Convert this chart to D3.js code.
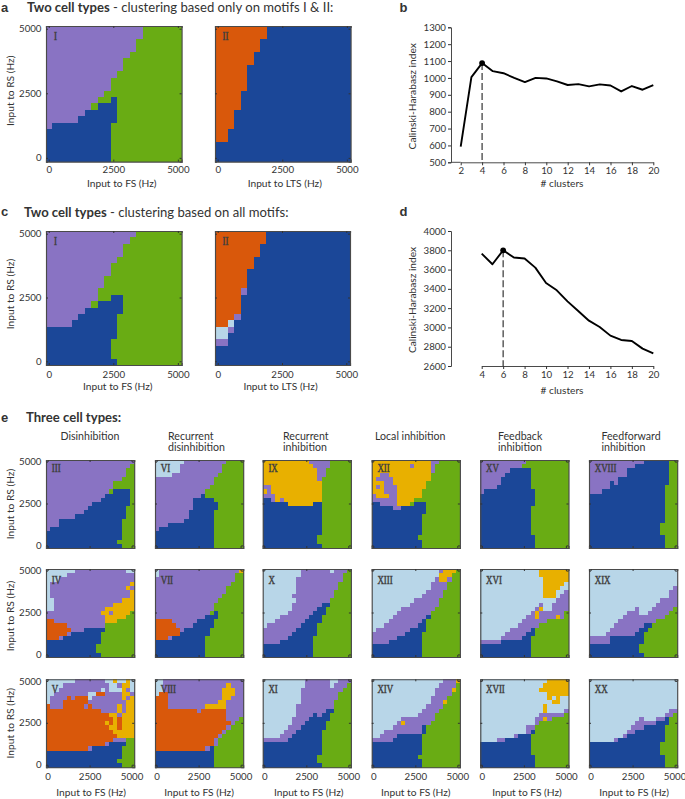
<!DOCTYPE html>
<html><head><meta charset="utf-8">
<script src="https://cdn.jsdelivr.net/npm/d3@7"></script>
<style>
html,body{margin:0;padding:0;background:#fff}
text{font-family:Lato,"Open Sans",sans-serif;fill:#333}
</style></head><body><svg id="c" width="685" height="799"></svg>
<script>
// Cluster maps: 21 rows from input 5000 (top) to 0 (bottom), run-length coded; a letter with no count fills the row.
const I_A=["15pg","15pg","14pg","14pg","13pg","12pg","12pg","11pg","10pg","10pg","9pg","8p2g1bg","7p1g3bg","6p5bg","5p6bg","1p9bg","10bg","10bg","10bg","10bg","10bg"];
const II_A=["8ob","8ob","7ob","7ob","6ob","6ob","5ob","5ob","5ob","5ob","4ob","4ob","4ob","3ob","3ob","3ob","2ob","2ob","b","b","b"];
const I_C=["14pg","13pg","12pg","12pg","11pg","10pg","10pg","9pg","9pg","8pg","8p2g2bg","7p1g4bg","6p6bg","5p6bg","4p7bg","11bg","11bg","10bg","10bg","10bg","11bg"];
const II_C=["8ob","8ob","7ob","7ob","6ob","6ob","5ob","5ob","5ob","4o1pb","4ob","4ob","4ob","3o1pb","2o1lb","2l1pb","2lb","2pb","b","b","b"];
const III=["21p","20pg","19pg","19pg","18pg","16pg","16pg","15p1g4b1g","14p6b1g","13p7b1g","11p9b1g","10p9bg","9p10bg","7p12bg","3p15bg","3p15bg","1p17bg","18bg","18bg","17bg","18bg"];
const VI=["7l10pg","6l10pg","6l10pg","4l11pg","14pg","14pg","13pg","12pg","11p1bg","9p5bg","9p6bg","9p6bg","8p6bg","8p6bg","7p7bg","3p11bg","1p13bg","14bg","14bg","14bg","14bg"];
const IX=["11y5pg","12y4pg","13y2pg","13y2pg","13y1pg","14yg","2p12yg","1y1p12yg","3p11yg","2b1p1y1p9yg","6b6y2bg","14bg","14bg","14bg","14bg","14bg","14bg","14bg","13bg","13bg","14bg"];
const XII=["14y2pg","9y1p4y1pg","14y1pg","2y2p10yg","1y4p9yg","3y2p8yg","1y1p1y3p7yg","3y3p6yg","1p3y2p6yg","6p4yg","2b4p3y1g3bg","5b2p6bg","13bg","12bg","12bg","12bg","12bg","12bg","11bg","12bg","12bg"];
const XV=["11pg","10pg","7p5bg","6p6bg","5p7bg","5p7bg","4p8bg","1p12bg","13bg","13bg","13bg","12bg","12bg","12bg","12bg","12bg","12bg","12bg","13bg","13bg","13bg"];
const XVIII=["13p6b2g","11p8b2g","9p10b2g","9p10b2g","7p12b2g","5p1b1p12b2g","5p13bg","3p15bg","18bg","18bg","18bg","18bg","18bg","18bg","18bg","17bg","17bg","17bg","18bg","18bg","18bg"];
const IV=["7l12p2l","5lp","3lp","1l19p1y","1l18p1y1p","1l19p1y","1l19p1y","2l16p3y","2l14p5y","2l12p7y","13p2y1p4y1g","14p5y2g","2o12p3y4g","5o9pg","6o3p5bg","5o1p7bg","3o1p9bg","13bg","12bg","12bg","13bg"];
const VII=["1l19p1y","1l18pg","19pg","18pg","17pg","17pg","16pg","15pg","14pg","14pg","13p1g1bg","12p3bg","4o6p4bg","5o4p5bg","6o1p6bg","6o7bg","3o1p8bg","12bg","12bg","12bg","12bg"];
const X=["9l7p1l3p1g","9l10pg","8l11pg","8l10pg","8l10pg","8l9pg","7l10pg","8l8pg","7l7p2bg","7l6p2bg","6l6p3bg","4l7p3bg","3l7p4bg","1l8p4bg","8p5bg","7p6bg","6p6bg","4p8bg","12bg","12bg","12bg"];
const XIII=["16l1p3yg","16l3yg","15l1p2y1pg","14l4pg","14l4pg","13l4pg","12l5pg","10l6pg","9l7pg","7l8pg","6l8pg","5l8p1bg","4l8p1bg","3l8p2bg","1l8p4bg","8p4bg","6p6bg","4p8bg","12bg","12bg","12bg"];
const XVI=["14l7y","14l7y","15l6y","15l5y1l","15l4y2l","15l3y2l1p","15l3y1l2p","18l3p","14l1p2l4p","13l1p1y2l4p","12l1p1y6p1g","11l2p1y4p1y1pg","10l6pg","9l5pg","7l5p1bg","6l5p2bg","5l5p2bg","5p7bg","12bg","12bg","12bg"];
const XIX=["21l","21l","21l","21l","20l1p","19l2p","19l2p","17l4p","16l5p","11l1p3l5p1g","9l3p2l5p2g","8l10pg","7l9pg","6l7p2bg","5l7p2bg","4l7p2bg","5p8bg","5p8bg","12bg","12bg","13bg"];
const V=["7l7p2l1y2l1y1l","4l11p2l1p2y1l","3l10p1l1p3l1y1p1l","2l8p2l2o4p2y1p","1l4p1o1p3o1l7p1y1p1y","1l3p6o9p2y","1o3p5o1p1o6p1y1p2y","13o4p1y1p2y","15o2y1p3y","16o1y1o3y","14o1y1o1y1o3y","15o2y1o3y","16o5y","17o4y","16o3p2g","14o1p4bg","10o1p7bg","18bg","18bg","17bg","18bg"];
const VIII=["2l19p","2l15p1y3p","2l14p3y2p","1l2o13p3y2p","3o13p2y3p","3o12p2y4p","3o9p5y4p","10o1p6o4p","17o4p","17o3p1g","18o1p2g","17o1pg","16o1pg","15o1pg","14o1pg","14o1pg","12o1p1bg","14bg","14bg","14bg","14bg"];
const XI=["10l6p2l3p","10l6p1l3p1g","9l10pg","9l9pg","9l9pg","9l8pg","8l9pg","8l7p2bg","8l4p1b1p2bg","7l4p5bg","7l3p5bg","6l3p6bg","5l3p6bg","4l3p7bg","6p8bg","14bg","14bg","14bg","13bg","13bg","14bg"];
const XIV=["17l3p1y","16l4pg","15l4p1yg","15l4pg","14l4pg","14l3p1yg","13l4pg","12l4pg","11l4pg","7l8pg","6l1p1y6pg","5l7p1bg","3l9p1bg","2l4p6bg","5p7bg","12bg","12bg","12bg","11bg","12bg","12bg"];
const XVII=["16l5y","15l6y","14l7y","16l5y","16l1y1l1y2l","17l2y2l","15l1y5l","15l1y4l1p","14l6pg","13l2p1y1pg","13l1pg","11l2pg","11l1p1bg","8l1p3bg","4l2p6bg","12bg","12bg","12bg","13bg","13bg","13bg"];
const XX=["21l","21l","21l","21l","21l","21l","21l","19l2p","18l2pg","12l1p3l2p1bg","11l5p3bg","10l3p5bg","9l2p7bg","8l1p9bg","6l1p11bg","17bg","17bg","17bg","18bg","18bg","18bg"];

// Calinski-Harabasz curves
const B_CLUSTERS=[2,3,4,5,6,7,8,9,10,11,12,13,14,15,16,17,18,19,20];
const B_INDEX=[593,1005,1088,1040,1028,1000,975,1000,997,980,958,963,950,962,955,920,952,930,957];
const D_CLUSTERS=[4,5,6,7,8,9,10,11,12,13,14,15,16,17,18,19,20];
const D_INDEX=[3765,3655,3800,3725,3715,3620,3460,3385,3270,3170,3070,3005,2915,2870,2860,2780,2730];

// Axis vocabularies
const INPUT_STEPS=[0,250,500,750,1000,1250,1500,1750,2000,2250,2500,2750,3000,3250,3500,3750,4000,4250,4500,4750,5000];
const INPUT_TICKS=[0,2500,5000];
const B_Y_TICKS=[500,600,700,800,900,1000,1100,1200,1300];
const D_Y_TICKS=[2600,2800,3000,3200,3400,3600,3800,4000];
const X_TICKS_B=[2,4,6,8,10,12,14,16,18,20];
const X_TICKS_D=[4,6,8,10,12,14,16,18,20];
const COLUMN_TITLES=[["Disinhibition"],["Recurrent","disinhibition"],["Recurrent","inhibition"],["Local inhibition"],["Feedback","inhibition"],["Feedforward","inhibition"]];
const CLUSTER_KEYS=["p","g","b","o","y","l"];
const CLUSTER_COLORS=["#8973c3","#69ac14","#1b4798","#d9580b","#e8b000","#b8d6e8"];

const svg=d3.select("#c");
const color=d3.scaleOrdinal(CLUSTER_KEYS,CLUSTER_COLORS);
const FS=10.2, TICK_FS=9.7;

function expand(s){
  const out=[];
  for(const m of s.matchAll(/(\d*)([a-z])/g)){
    const k=m[1]?+m[1]:21-out.length;
    for(let i=0;i<k;i++)out.push(m[2]);
  }
  while(out.length<21)out.push(out[out.length-1]);
  return out.slice(0,21);
}

function styleAxis(g,w){
  g.selectAll("path").attr("stroke","#4a4a4a").attr("stroke-width",w);
  g.selectAll("line").attr("stroke","#333");
  g.selectAll("text").style("font-size",TICK_FS+"px").style("font-family","Lato").attr("fill","#333");
}

function heat(o){
  const g=svg.append("g").attr("transform",`translate(${o.x},${o.y})`);
  const X=d3.scaleBand(INPUT_STEPS,[0,o.w]);
  const Y=d3.scaleBand(INPUT_STEPS.slice().reverse(),[0,o.h]);
  const rows=o.data.map(expand);
  const cells=[];
  rows.forEach((r,ri)=>r.forEach((c,ci)=>cells.push({x:INPUT_STEPS[ci],y:INPUT_STEPS[20-ri],c})));
  g.append("g").attr("shape-rendering","crispEdges").selectAll("rect").data(cells).join("rect")
    .attr("x",d=>X(d.x)).attr("y",d=>Y(d.y))
    .attr("width",X.bandwidth()+.5).attr("height",Y.bandwidth()+.5)
    .attr("fill",d=>color(d.c));
  const inner=-2;
  const gb=g.append("g").attr("transform",`translate(0,${o.h})`)
    .call(d3.axisBottom(X).tickValues(INPUT_TICKS).tickSize(inner).tickPadding(o.xPad||6).tickFormat(o.xLabels?d3.format("d"):""));
  const gt=g.append("g").call(d3.axisTop(X).tickValues(INPUT_TICKS).tickSize(inner).tickFormat(""));
  const gl=g.append("g").call(d3.axisLeft(Y).tickValues(INPUT_TICKS).tickSize(inner).tickPadding(4.5).tickFormat(o.yLabels?d3.format("d"):""));
  const gr=g.append("g").attr("transform",`translate(${o.w},0)`).call(d3.axisRight(Y).tickValues(INPUT_TICKS).tickSize(inner).tickFormat(""));
  [gb,gt,gl,gr].forEach(a=>styleAxis(a,1.15));
  g.append("text").attr("transform",`translate(${o.rx},${o.ry}) scale(.85,1.15)`).text(o.roman)
    .style("font-size","10.5px").style("font-family","Liberation Serif")
    .attr("fill","#f4f4f4").attr("stroke","#444").attr("stroke-width",.4);
  if(o.xTitle)g.append("text").attr("x",o.w/2+(o.xTitleDx||0)).attr("y",o.h+o.xTitleDy).attr("text-anchor","middle").style("font-size",FS+"px").text(o.xTitle);
  if(o.yLabels)svg.append("text").attr("transform",`translate(13.5,${o.y+o.h/2+(o.yTitleDy||0)}) rotate(-90)`).attr("text-anchor","middle").style("font-size",FS+"px").text("Input to RS (Hz)");
}

// a, c
heat({x:46,y:26,w:135.6,h:135.6,data:I_A,roman:"I",rx:8,ry:14,xLabels:true,xPad:5,yLabels:true,yTitleDy:-3,xTitle:"Input to FS (Hz)",xTitleDy:25,xTitleDx:8});
heat({x:215,y:26,w:135.6,h:135.6,data:II_A,roman:"II",rx:7.5,ry:14,xLabels:true,xPad:5,yLabels:false,xTitle:"Input to LTS (Hz)",xTitleDy:25,xTitleDx:2});
heat({x:46,y:231,w:135.6,h:134,data:I_C,roman:"I",rx:8,ry:14,xLabels:true,yLabels:true,yTitleDy:-4,xTitle:"Input to FS (Hz)",xTitleDy:24.5,xTitleDx:4});
heat({x:215,y:231,w:135,h:134,data:II_C,roman:"II",rx:7.5,ry:14,xLabels:true,yLabels:false,xTitle:"Input to LTS (Hz)",xTitleDy:24.5,xTitleDx:-2});

// e
const colX=[46,155,262.7,371.7,480.3,589];
const rowY=[460,569,679.3];
const romanY=[12,15,13.4];
const yTitleShift=[0,3,0];
const xTitleShift=[1,0,2,0,2.6,1];
const GRID=[[III,VI,IX,XII,XV,XVIII],[IV,VII,X,XIII,XVI,XIX],[V,VIII,XI,XIV,XVII,XX]];
const ROMANS=[["III","VI","IX","XII","XV","XVIII"],["IV","VII","X","XIII","XVI","XIX"],["V","VIII","XI","XIV","XVII","XX"]];
GRID.forEach((row,ri)=>row.forEach((data,ci)=>{
  heat({x:colX[ci],y:rowY[ri],w:88.2,h:88,data,roman:ROMANS[ri][ci],rx:5.7,ry:romanY[ri],
    xLabels:ri===2,yLabels:ci===0,yTitleDy:yTitleShift[ri],xTitle:ri===2?"Input to FS (Hz)":null,xTitleDy:28.5,xTitleDx:xTitleShift[ci]});
}));

// titles
function label(t,x,y,size,weight){return svg.append("text").attr("x",x).attr("y",y).text(t).style("font-size",size+"px").style("font-weight",weight||"normal").attr("fill","#111");}
[["a",1,12],["b",399.5,12],["c",1,216],["d",399.5,216],["e",1,422]].forEach(d=>label(d[0],d[1],d[2],13,"bold").style("font-family","Liberation Sans"));
const t1=svg.append("text").attr("x",27).attr("y",12).style("font-size","13.1px");
t1.append("tspan").text("Two cell types").style("font-weight","bold");
t1.append("tspan").text(" - clustering based only on motifs I & II:");
const t2=svg.append("text").attr("x",24).attr("y",216.5).style("font-size","13.1px");
t2.append("tspan").text("Two cell types").style("font-weight","bold");
t2.append("tspan").text(" - clustering based on all motifs:");
label("Three cell types:",26,422,13.1,"bold");
const titleX=[60.5,168,283,375,498,601.5];
COLUMN_TITLES.forEach((ls,i)=>ls.forEach((s,j)=>{
  svg.append("text").attr("x",titleX[i]).attr("y",439.5+j*11).style("font-size","10.6px").text(s);
}));

// line charts
function curve(o){
  const g=svg.append("g");
  const x=d3.scaleLinear(o.xd,o.xr),y=d3.scaleLinear(o.yd,o.yr);
  const ga=g.append("g").attr("transform",`translate(${o.axisX},0)`).call(d3.axisLeft(y).tickValues(o.yt).tickSize(3).tickPadding(2).tickFormat(d3.format("d")));
  const gb=g.append("g").attr("transform",`translate(0,${o.yr[0]})`).call(d3.axisBottom(x).tickValues(o.xt).tickSize(3).tickSizeOuter(0).tickPadding(o.xPad));
  [ga,gb].forEach(a=>styleAxis(a,1));
  if(o.extend)g.append("line").attr("x1",o.axisX).attr("x2",o.xr[0]).attr("y1",o.yr[0]).attr("y2",o.yr[0]).attr("stroke","#4a4a4a");
  const pts=o.xs.map((v,i)=>[v,o.ys[i]]);
  g.append("line").attr("x1",x(o.peak)).attr("x2",x(o.peak)).attr("y1",y(o.ys[o.xs.indexOf(o.peak)])).attr("y2",o.yr[0])
    .attr("stroke","#444").attr("stroke-width",1.3).attr("stroke-dasharray","7,3");
  g.append("path").attr("d",d3.line().x(d=>x(d[0])).y(d=>y(d[1]))(pts)).attr("fill","none").attr("stroke","#000").attr("stroke-width",1.9).attr("stroke-linejoin","round");
  g.append("circle").attr("cx",x(o.peak)).attr("cy",y(o.ys[o.xs.indexOf(o.peak)])).attr("r",2.9).attr("fill","#000");
  g.append("text").attr("x",o.labelCx).attr("y",o.yr[0]+o.labelDy).attr("text-anchor","middle").style("font-size",FS+"px").text("# clusters");
  g.append("text").attr("transform",`translate(${o.yTitleX},${(o.yr[0]+o.yr[1])/2+1.5}) rotate(-90)`).attr("text-anchor","middle").style("font-size",FS+"px").text("Calinski-Harabasz index");
}
curve({xd:[2,20],xr:[460.7,653.3],yd:[500,1300],yr:[162.3,27.3],axisX:451,xs:B_CLUSTERS,ys:B_INDEX,peak:4,yt:B_Y_TICKS,xt:X_TICKS_B,extend:true,labelCx:562,labelDy:25,xPad:1.5,yTitleX:415.5});
curve({xd:[4,20],xr:[481.7,653.3],yd:[2600,4000],yr:[366,231],axisX:451,xs:D_CLUSTERS,ys:D_INDEX,peak:6,yt:D_Y_TICKS,xt:X_TICKS_D,extend:false,labelCx:562,labelDy:27.5,xPad:2.5,yTitleX:415.5});
</script></body></html>
